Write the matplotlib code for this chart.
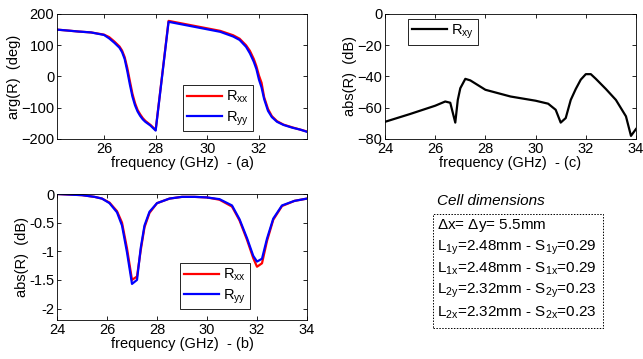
import matplotlib
matplotlib.use("Agg")
import matplotlib.pyplot as plt
from matplotlib.patches import Rectangle

plt.rcParams['font.family'] = ['Liberation Sans', 'DejaVu Sans']
plt.rcParams['mathtext.default'] = 'regular'

# (a) phase
freq_a = [24.18, 24.6, 25.0, 25.5, 26.0, 26.2, 26.4, 26.6, 26.7, 26.8, 26.9, 27.0, 27.1,
          27.2, 27.3, 27.4, 27.5, 27.6, 27.8, 28.0,
          28.5, 29.0, 29.5, 30.0, 30.5, 31.0, 31.25, 31.5, 31.65, 31.8, 31.9, 32.0, 32.1,
          32.2, 32.35, 32.5, 32.7, 32.95, 33.3, 33.6, 33.86]
arg_xx = [150, 147, 144, 141, 134, 126, 112, 96, 83, 62, 28, -14, -55,
          -85, -107, -121, -133, -142, -155, -171,
          178, 170, 162, 154, 146, 132, 121, 100, 82, 56, 33, 3, -20,
          -66, -104, -127, -143, -154, -163, -170, -176]
arg_yy = [150, 147, 144, 141, 133, 122, 108, 92, 78, 56, 18, -25, -64,
          -92, -112, -126, -137, -145, -157, -173,
          175, 167, 159, 151, 143, 128, 117, 95, 74, 47, 24, -10, -35,
          -72, -110, -130, -145, -155, -164, -170, -177]

# (b) magnitude co-pol
freq_b = [24.0, 24.5, 25.0, 25.5, 25.8, 26.1, 26.4, 26.6, 26.8, 27.0, 27.2, 27.35, 27.5,
          27.7, 28.0, 28.5, 29.0, 29.5, 30.0, 30.5, 31.0, 31.3, 31.6, 31.85, 32.0, 32.2,
          32.4, 32.65, 33.0, 33.5, 34.0]
abs_xx = [0.0, -0.01, -0.02, -0.05, -0.08, -0.15, -0.3, -0.5, -0.95, -1.5, -1.44, -0.98, -0.58,
          -0.33, -0.16, -0.08, -0.05, -0.05, -0.06, -0.1, -0.22, -0.46, -0.8, -1.12, -1.27, -1.21,
          -0.82, -0.45, -0.21, -0.12, -0.08]
abs_yy = [0.0, -0.01, -0.02, -0.05, -0.08, -0.16, -0.32, -0.55, -1.02, -1.57, -1.5, -0.94, -0.55,
          -0.31, -0.16, -0.08, -0.05, -0.05, -0.06, -0.09, -0.2, -0.44, -0.77, -1.08, -1.18, -1.13,
          -0.78, -0.43, -0.2, -0.12, -0.08]

# (c) cross-pol
freq_c = [24.0, 25.0, 26.0, 26.4, 26.6, 26.8, 26.9, 27.0, 27.2, 27.4, 28.0, 29.0, 30.0, 30.5,
          30.8, 31.0, 31.2, 31.4, 31.6, 31.8, 32.0, 32.2, 32.4, 32.8, 33.2, 33.6, 33.8, 34.0]
abs_xy = [-69, -64, -58.7, -56, -56.8, -69.5, -55, -47.5, -41.5, -42.5, -48.5, -52.8, -55.5, -57.4,
          -61.3, -69.5, -66.6, -55, -48, -42, -38.5, -38.5, -41.5, -48, -55, -65.5, -78, -73.6]

cell_title = "Cell dimensions"
cell_lines = [r"$\Delta$x= $\Delta$y= 5.5mm",
              r"L$_{1y}$=2.48mm - S$_{1y}$=0.29",
              r"L$_{1x}$=2.48mm - S$_{1x}$=0.29",
              r"L$_{2y}$=2.32mm - S$_{2y}$=0.23",
              r"L$_{2x}$=2.32mm - S$_{2x}$=0.23"]

fig = plt.figure(figsize=(6.43, 3.59), dpi=100)
FS = 10.5

def style(ax):
    ax.tick_params(direction='in', top=True, right=True, labelsize=FS, length=3, width=0.6, pad=2)
    for s in ax.spines.values():
        s.set_linewidth(0.6)

def legend(ax, x, y):
    leg = ax.legend(loc='upper left', bbox_to_anchor=(x, y), fontsize=FS, fancybox=False,
                    edgecolor='black', framealpha=1, handlelength=2.4, borderpad=0.25,
                    labelspacing=0.3, handletextpad=0.3, borderaxespad=0)
    leg.get_frame().set_linewidth(0.6)

axa = fig.add_axes([57/643, 1-139/359, 250/643, 125/359])
axa.plot(freq_a, arg_xx, color='#ff0000', lw=1.6, label=r'R$_{xx}$')
axa.plot(freq_a, arg_yy, color='#0000ff', lw=1.6, label=r'R$_{yy}$')
axa.set_xlim(24.18, 33.86)
axa.set_ylim(-200, 200)
axa.set_xticks([26, 28, 30, 32])
axa.set_yticks([-200, -100, 0, 100, 200])
axa.set_xlabel('frequency (GHz)  - (a)', fontsize=FS, labelpad=0)
axa.set_ylabel('arg(R)  (deg)', fontsize=FS, labelpad=0)
style(axa)
legend(axa, 0.504, 0.432)

axb = fig.add_axes([57/643, 1-320/359, 250/643, 126/359])
axb.plot(freq_b, abs_xx, color='#ff0000', lw=1.6, label=r'R$_{xx}$')
axb.plot(freq_b, abs_yy, color='#0000ff', lw=1.6, label=r'R$_{yy}$')
axb.set_xlim(24, 34)
axb.set_ylim(-2.2, 0)
axb.set_xticks([24, 26, 28, 30, 32, 34])
axb.set_yticks([-2, -1.5, -1, -0.5, 0])
axb.set_yticklabels(['-2', '-1.5', '-1', '-0.5', '0'])
axb.set_xlabel('frequency (GHz)  - (b)', fontsize=FS, labelpad=0)
axb.set_ylabel('abs(R)  (dB)', fontsize=FS, labelpad=0)
style(axb)
legend(axb, 0.492, 0.452)

axc = fig.add_axes([385/643, 1-139/359, 251/643, 125/359])
axc.plot(freq_c, abs_xy, color='black', lw=1.6, label=r'R$_{xy}$')
axc.set_xlim(24, 34)
axc.set_ylim(-80, 0)
axc.set_xticks([24, 26, 28, 30, 32, 34])
axc.set_yticks([-80, -60, -40, -20, 0])
axc.set_xlabel('frequency (GHz)  - (c)', fontsize=FS, labelpad=0)
axc.set_ylabel('abs(R)  (dB)', fontsize=FS, labelpad=0)
style(axc)
legend(axc, 0.092, 0.96)

# Cell dimensions box
fig.text(437/643, 1-201/359, cell_title, fontsize=FS + 0.5, style='italic', va='center', ha='left')
fig.patches.append(Rectangle((433/643, 1-328/359), 170/643, 114/359, transform=fig.transFigure,
                             fill=False, edgecolor='black', lw=0.7, linestyle=(0, (1.5, 1.5))))
y0 = 225.7
for i, t in enumerate(cell_lines):
    fig.text(437/643, 1-(y0 + i*21.75)/359, t, fontsize=FS + 0.5, va='center', ha='left')

fig.savefig('out.png', dpi=100)
